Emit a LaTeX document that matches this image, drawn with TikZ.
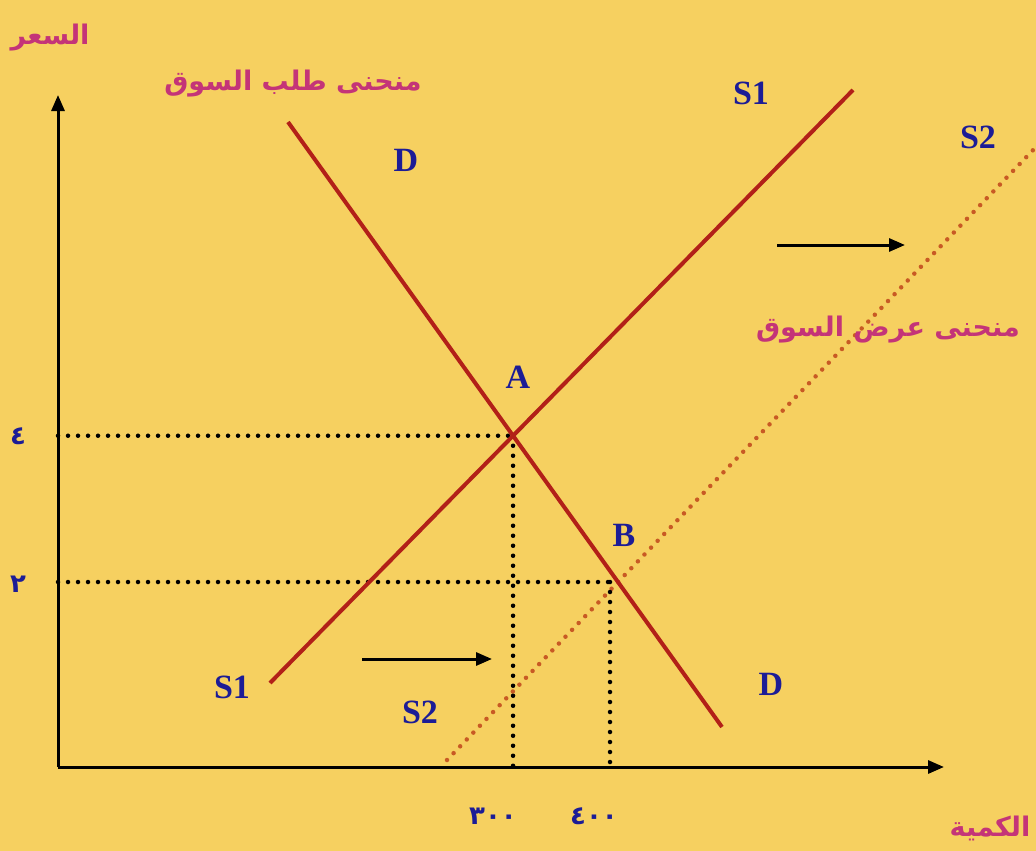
\documentclass[tikz,border=0pt]{standalone}
\usepackage{fontspec}
\setmainfont{Liberation Serif}
\newfontfamily\arabicfont[Script=Arabic]{DejaVu Sans}
\TeXXeTstate=1
\usetikzlibrary{arrows.meta}
\definecolor{bgyellow}{RGB}{246,208,96}
\definecolor{curvered}{RGB}{178,32,24}
\definecolor{shiftorange}{RGB}{200,90,36}
\definecolor{labblue}{RGB}{28,28,150}
\definecolor{arpink}{RGB}{196,52,120}
\tikzset{
  lab/.style={font=\fontsize{34}{36}\selectfont\bfseries, text=labblue, inner sep=0pt},
  num/.style={font=\arabicfont\fontsize{26}{28}\selectfont\bfseries, text=labblue, inner sep=0pt},
  artext/.style={font=\arabicfont\fontsize{27}{30}\selectfont\bfseries, text=arpink, inner sep=0pt},
  axisline/.style={line width=3pt, black, -{Triangle[length=16pt,width=13pt]}},
  curve/.style={line width=4pt, curvered},
  shifted/.style={line width=4.5pt, shiftorange, line cap=round, dash pattern=on 0pt off 9.5pt},
  guide/.style={line width=4.5pt, black, line cap=round, dash pattern=on 0pt off 10pt},
  shiftarrow/.style={line width=3pt, black, -{Triangle[length=16pt,width=13pt]}}
}
\begin{document}
\begin{tikzpicture}[x=1pt,y=-1pt]
\fill[bgyellow] (0,0) rectangle (1036,851);
\useasboundingbox (0,0) rectangle (1036,851);
% axes
\coordinate (O) at (58,767);
\coordinate (ytop) at (58,95);
\coordinate (xend) at (944,767);
\draw[axisline] (O) -- (ytop);
\draw[axisline] (O) -- (xend);
% curves
\coordinate (D1) at (288,122);
\coordinate (D2) at (722,727);
\coordinate (S1a) at (270,683);
\coordinate (S1b) at (853,90);
\coordinate (S2a) at (447,760);
\coordinate (S2b) at (1036,147);
\coordinate (A) at (intersection of D1--D2 and S1a--S1b);
\coordinate (B) at (intersection of D1--D2 and S2a--S2b);
\coordinate (Bg) at (610,582);
\draw[shifted] (S2a) -- (S2b);
\draw[guide] (O |- A) -- (A);
\draw[guide] (A) -- (A |- O);
\draw[guide] (O |- Bg) -- (Bg);
\draw[guide] (Bg) -- (Bg |- O);
\draw[curve] (D1) -- (D2);
\draw[curve] (S1a) -- (S1b);
% shift arrows
\coordinate (r1s) at (777,245);
\coordinate (r1e) at (905,245);
\coordinate (r2s) at (362,659);
\coordinate (r2e) at (492,659);
\draw[shiftarrow] (r1s) -- (r1e);
\draw[shiftarrow] (r2s) -- (r2e);
% letters
\node[lab] (s1top) at (751,93) {S1};
\node[lab] (s2top) at (978,137) {S2};
\node[lab] (dtop) at (406,160) {D};
\node[lab] (la) at (518,377) {A};
\node[lab] (lb) at (624,535) {B};
\node[lab] (s1bot) at (232,687) {S1};
\node[lab] (s2bot) at (420,712) {S2};
\node[lab] (dbot) at (771,684) {D};
% Arabic labels
\node[artext] (ylab) at (50,38) {\beginR السعر\endR};
\node[artext] (dlab) at (293,84) {\beginR منحنى طلب السوق\endR};
\node[artext] (slab) at (888,330) {\beginR منحنى عرض السوق\endR};
\node[artext] (xlab) at (990,828) {\beginR الكمية\endR};
% numbers
\node[num] (p4) at (18,436) {٤};
\node[num] (p2) at (18,584) {٢};
\node[num] (q3) at (493,816) {٣٠٠};
\node[num] (q4) at (594,816) {٤٠٠};
\end{tikzpicture}
\end{document}
